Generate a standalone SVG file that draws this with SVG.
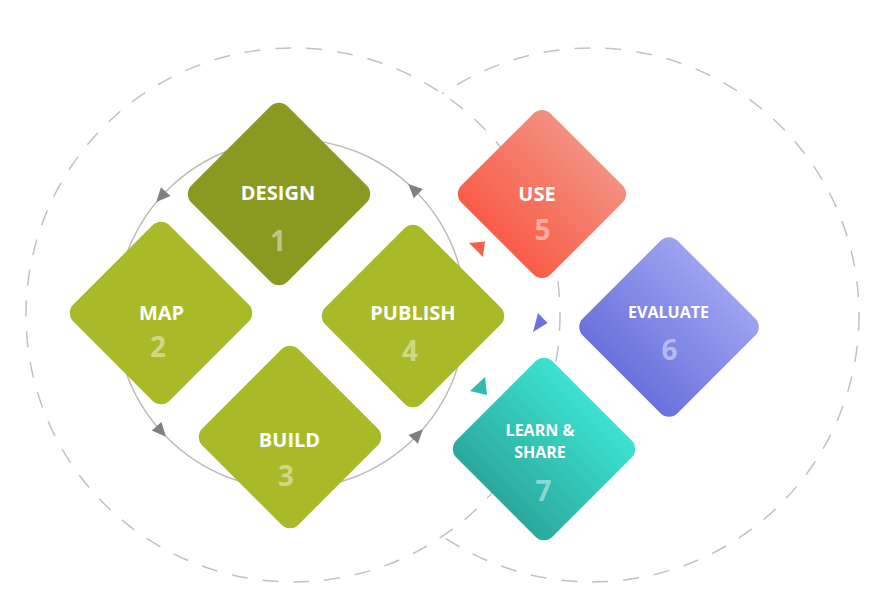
<svg xmlns="http://www.w3.org/2000/svg" width="880" height="602" viewBox="0 0 880 602">
  <defs>
    <!-- gradients run along the rotated square's local y axis: top = upper-right corner on screen -->
    <linearGradient id="gUse" x1="0" y1="0" x2="0" y2="1">
      <stop offset="0" stop-color="#f3907f"/>
      <stop offset="1" stop-color="#f85c47"/>
    </linearGradient>
    <linearGradient id="gEval" x1="0" y1="0" x2="0" y2="1">
      <stop offset="0" stop-color="#9ca3f0"/>
      <stop offset="1" stop-color="#6a71dc"/>
    </linearGradient>
    <linearGradient id="gLearn" x1="0" y1="0" x2="0" y2="1">
      <stop offset="0" stop-color="#3de2d1"/>
      <stop offset="1" stop-color="#2aa99b"/>
    </linearGradient>
    <style>
      .ring { fill: none; stroke: #c2c2c2; stroke-width: 1.5; stroke-dasharray: 16 15; }
      .cycle { fill: none; stroke: #bcbcbc; stroke-width: 1.5; }
      .head { fill: #808080; }
      .label { font-family: "Open Sans", "Noto Sans", sans-serif; font-weight: 700; fill: #ffffff; text-anchor: middle; }
      .num { font-family: "Open Sans", "Noto Sans", sans-serif; font-weight: 700; font-size: 28px; fill: #ffffff; fill-opacity: 0.45; text-anchor: middle; }
    </style>
  </defs>

  <!-- background dashed rings: the left ring is filled white so it hides the inner part of the right ring -->
  <g id="rings">
    <circle class="ring" cx="592" cy="315" r="267"/>
    <circle class="ring" cx="293" cy="315" r="267" style="fill:#ffffff"/>
  </g>

  <!-- connectors: the inner cycle with its arrowheads, plus the coloured pointers -->
  <g id="connectors">
    <circle class="cycle" cx="291" cy="314" r="175"/>
    <polygon class="head" points="0,-7.5 -6.5,6.5 6.5,6.5" transform="rotate(222.2 291 314) translate(466 314)"/>
    <polygon class="head" points="0,-7.5 -6.5,6.5 6.5,6.5" transform="rotate(138 291 314) translate(466 314)"/>
    <polygon class="head" points="0,-7.5 -6.5,6.5 6.5,6.5" transform="rotate(43.6 291 314) translate(466 314)"/>
    <polygon class="head" points="0,-7.5 -6.5,6.5 6.5,6.5" transform="rotate(-45.5 291 314) translate(466 314)"/>
    <polygon points="469,243 485,241.5 483,257" fill="#f7604b"/>
    <polygon points="533,332 538,313 547.5,323" fill="#6b72dc"/>
    <polygon points="470,391 485,377 487,395" fill="#2fbcae"/>
  </g>

  <g id="design">
    <rect x="-68" y="-68" width="136" height="136" rx="12" fill="#8a9a21" transform="translate(279 194) rotate(45)"/>
    <text class="label" x="278" y="200" font-size="20">DESIGN</text>
    <text class="num" x="278" y="251">1</text>
  </g>

  <g id="map">
    <rect x="-68" y="-68" width="136" height="136" rx="12" fill="#a8ba27" transform="translate(161 313) rotate(45)"/>
    <text class="label" x="161.5" y="320" font-size="20">MAP</text>
    <text class="num" x="158" y="357">2</text>
  </g>

  <g id="build">
    <rect x="-68" y="-68" width="136" height="136" rx="12" fill="#a8ba27" transform="translate(290 437) rotate(45)"/>
    <text class="label" x="289.5" y="447" font-size="20">BUILD</text>
    <text class="num" x="286" y="486">3</text>
  </g>

  <g id="publish">
    <rect x="-68" y="-68" width="136" height="136" rx="12" fill="#a8ba27" transform="translate(413 316) rotate(45)"/>
    <text class="label" x="413" y="320" font-size="20">PUBLISH</text>
    <text class="num" x="410" y="361">4</text>
  </g>

  <g id="use">
    <rect x="-63" y="-63" width="126" height="126" rx="12" fill="url(#gUse)" transform="translate(542 194) rotate(45)"/>
    <text class="label" x="537" y="201" font-size="20">USE</text>
    <text class="num" x="542.5" y="240">5</text>
  </g>

  <g id="evaluate">
    <rect x="-67" y="-67" width="134" height="134" rx="12" fill="url(#gEval)" transform="translate(669 327) rotate(45)"/>
    <text class="label" x="668.5" y="318" font-size="16">EVALUATE</text>
    <text class="num" x="669.5" y="360">6</text>
  </g>

  <g id="learn-share">
    <rect x="-68" y="-68" width="136" height="136" rx="12" fill="url(#gLearn)" transform="translate(544 449) rotate(45)"/>
    <text class="label" font-size="16"><tspan x="540" y="436">LEARN &amp;</tspan><tspan x="540" y="458">SHARE</tspan></text>
    <text class="num" x="543.5" y="501">7</text>
  </g>
</svg>
